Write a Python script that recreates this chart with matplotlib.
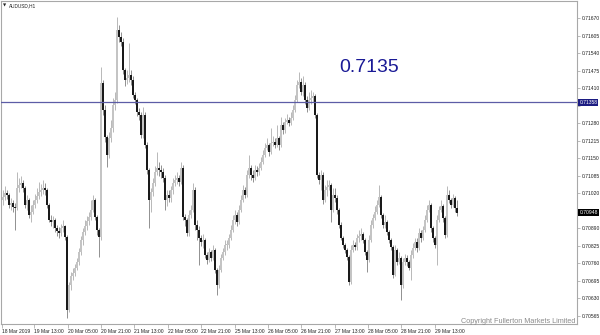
import numpy as np
import matplotlib
matplotlib.use("Agg")
import matplotlib.pyplot as plt
import matplotlib.transforms as mtransforms

# AUDUSD H1 bars
symbol = "AUDUSD,H1"
first_open = 0.70995

closes = [
    0.71006, 0.71021, 0.71013, 0.70976, 0.70984, 0.70969, 0.70965, 0.71039, 0.71050, 0.71058,
    0.71039, 0.70976, 0.70995, 0.70939, 0.70951, 0.70976, 0.70995, 0.71010, 0.71025, 0.71032,
    0.71039, 0.71032, 0.70976, 0.70921, 0.70914, 0.70921, 0.70891, 0.70880, 0.70873, 0.70891,
    0.70899, 0.70858, 0.70587, 0.70679, 0.70713, 0.70724, 0.70742, 0.70765, 0.70802, 0.70847,
    0.70877, 0.70899, 0.70917, 0.70932, 0.70958, 0.70995, 0.70932, 0.70884, 0.70858, 0.71429,
    0.71329, 0.71229, 0.71161, 0.71225, 0.71262, 0.71347, 0.71366, 0.71625, 0.71599, 0.71581,
    0.71477, 0.71440, 0.71447, 0.71458, 0.71440, 0.71384, 0.71366, 0.71322, 0.71310, 0.71236,
    0.71310, 0.71198, 0.71106, 0.70995, 0.71025, 0.71058, 0.71099, 0.71113, 0.71106, 0.71099,
    0.71076, 0.70995, 0.71013, 0.71002, 0.71032, 0.71058, 0.71069, 0.71076, 0.71062, 0.71113,
    0.70932, 0.70921, 0.70873, 0.70939, 0.70958, 0.71032, 0.70902, 0.70884, 0.70854, 0.70840,
    0.70847, 0.70790, 0.70772, 0.70802, 0.70779, 0.70809, 0.70735, 0.70679, 0.70735, 0.70779,
    0.70802, 0.70828, 0.70828, 0.70854, 0.70884, 0.70921, 0.70939, 0.70914, 0.70958, 0.70995,
    0.71032, 0.71013, 0.71087, 0.71113, 0.71087, 0.71076, 0.71106, 0.71099, 0.71113, 0.71136,
    0.71161, 0.71187, 0.71198, 0.71173, 0.71206, 0.71210, 0.71198, 0.71225, 0.71198, 0.71273,
    0.71255, 0.71285, 0.71292, 0.71281, 0.71299, 0.71329, 0.71366, 0.71421, 0.71433, 0.71396,
    0.71421, 0.71366, 0.71336, 0.71366, 0.71373, 0.71381, 0.71310, 0.71087, 0.71069, 0.71087,
    0.70995, 0.71032, 0.71043, 0.71050, 0.70958, 0.71013, 0.71002, 0.70958, 0.70902, 0.70854,
    0.70828, 0.70809, 0.70783, 0.70691, 0.70809, 0.70828, 0.70821, 0.70854, 0.70862, 0.70869,
    0.70847, 0.70802, 0.70772, 0.70847, 0.70902, 0.70928, 0.70951, 0.70976, 0.71006, 0.70939,
    0.70902, 0.70914, 0.70877, 0.70847, 0.70821, 0.70717, 0.70809, 0.70765, 0.70779, 0.70679,
    0.70765, 0.70779, 0.70765, 0.70742, 0.70790, 0.70817, 0.70840, 0.70817, 0.70873, 0.70854,
    0.70884, 0.70921, 0.70958, 0.70976, 0.70891, 0.70854, 0.70828, 0.70921, 0.70958, 0.70973,
    0.70928, 0.70865, 0.71013, 0.70995, 0.70976, 0.71002, 0.70965, 0.70948,
]

highs = [
    0.71032, 0.71047, 0.71032, 0.71021, 0.71002, 0.70995, 0.70984, 0.71099, 0.71076, 0.71084,
    0.71069, 0.71047, 0.71013, 0.71002, 0.70976, 0.70995, 0.71017, 0.71039, 0.71062, 0.71054,
    0.71069, 0.71058, 0.71039, 0.70984, 0.70939, 0.70936, 0.70928, 0.70902, 0.70895, 0.70906,
    0.70921, 0.70902, 0.70865, 0.70691, 0.70728, 0.70742, 0.70757, 0.70779, 0.70817, 0.70862,
    0.70891, 0.70921, 0.70936, 0.70951, 0.70995, 0.71013, 0.71002, 0.70939, 0.70891, 0.71488,
    0.71440, 0.71347, 0.71236, 0.71248, 0.71292, 0.71373, 0.71396, 0.71674, 0.71644, 0.71618,
    0.71595, 0.71484, 0.71477, 0.71577, 0.71477, 0.71455, 0.71396, 0.71373, 0.71336, 0.71322,
    0.71340, 0.71322, 0.71210, 0.71113, 0.71039, 0.71076, 0.71121, 0.71173, 0.71136, 0.71124,
    0.71113, 0.71087, 0.71032, 0.71032, 0.71047, 0.71076, 0.71087, 0.71099, 0.71087, 0.71136,
    0.71124, 0.70943, 0.70928, 0.70958, 0.70976, 0.71058, 0.71043, 0.70921, 0.70899, 0.70865,
    0.70869, 0.70854, 0.70802, 0.70817, 0.70809, 0.70828, 0.70817, 0.70742, 0.70753, 0.70794,
    0.70817, 0.70847, 0.70847, 0.70869, 0.70902, 0.70939, 0.70958, 0.70951, 0.70976, 0.71013,
    0.71050, 0.71043, 0.71106, 0.71161, 0.71124, 0.71106, 0.71124, 0.71121, 0.71132, 0.71154,
    0.71180, 0.71206, 0.71225, 0.71206, 0.71262, 0.71233, 0.71225, 0.71273, 0.71233, 0.71303,
    0.71285, 0.71299, 0.71314, 0.71303, 0.71322, 0.71347, 0.71384, 0.71440, 0.71470, 0.71447,
    0.71455, 0.71433, 0.71381, 0.71396, 0.71403, 0.71396, 0.71388, 0.71318, 0.71099, 0.71106,
    0.71099, 0.71050, 0.71069, 0.71069, 0.71058, 0.71039, 0.71039, 0.71013, 0.70965, 0.70914,
    0.70862, 0.70836, 0.70817, 0.70790, 0.70828, 0.70847, 0.70840, 0.70869, 0.70884, 0.70891,
    0.70877, 0.70854, 0.70809, 0.70865, 0.70921, 0.70943, 0.70973, 0.70995, 0.71050, 0.71013,
    0.70947, 0.70939, 0.70921, 0.70884, 0.70854, 0.70828, 0.70828, 0.70817, 0.70802, 0.70787,
    0.70779, 0.70794, 0.70790, 0.70772, 0.70809, 0.70836, 0.70854, 0.70854, 0.70891, 0.70884,
    0.70899, 0.70939, 0.70976, 0.70995, 0.70984, 0.70899, 0.70862, 0.70939, 0.70973, 0.70995,
    0.70980, 0.70936, 0.71047, 0.71032, 0.71002, 0.71017, 0.71010, 0.70995,
]

lows = [
    0.70976, 0.70995, 0.70999, 0.70965, 0.70958, 0.70951, 0.70884, 0.70958, 0.71025, 0.71039,
    0.71025, 0.70965, 0.70958, 0.70928, 0.70914, 0.70943, 0.70965, 0.70984, 0.70999, 0.71010,
    0.71017, 0.71013, 0.70965, 0.70914, 0.70899, 0.70891, 0.70877, 0.70862, 0.70854, 0.70862,
    0.70877, 0.70847, 0.70557, 0.70580, 0.70661, 0.70698, 0.70713, 0.70735, 0.70753, 0.70790,
    0.70828, 0.70865, 0.70884, 0.70902, 0.70921, 0.70951, 0.70921, 0.70865, 0.70783, 0.70847,
    0.71310, 0.71210, 0.71117, 0.71150, 0.71210, 0.71248, 0.71329, 0.71355, 0.71581, 0.71566,
    0.71462, 0.71418, 0.71425, 0.71433, 0.71421, 0.71373, 0.71351, 0.71307, 0.71292, 0.71225,
    0.71225, 0.71187, 0.71091, 0.70891, 0.70951, 0.71010, 0.71047, 0.71087, 0.71084, 0.71076,
    0.71062, 0.70958, 0.70973, 0.70988, 0.70988, 0.71017, 0.71047, 0.71054, 0.71047, 0.71054,
    0.70921, 0.70899, 0.70862, 0.70862, 0.70928, 0.70951, 0.70884, 0.70847, 0.70753, 0.70825,
    0.70817, 0.70779, 0.70757, 0.70765, 0.70768, 0.70772, 0.70724, 0.70642, 0.70668, 0.70728,
    0.70772, 0.70790, 0.70809, 0.70817, 0.70847, 0.70877, 0.70906, 0.70899, 0.70906, 0.70951,
    0.70988, 0.71002, 0.71006, 0.71076, 0.71069, 0.71062, 0.71069, 0.71084, 0.71087, 0.71106,
    0.71128, 0.71154, 0.71180, 0.71158, 0.71165, 0.71195, 0.71187, 0.71191, 0.71180, 0.71191,
    0.71240, 0.71244, 0.71277, 0.71270, 0.71273, 0.71292, 0.71322, 0.71359, 0.71410, 0.71384,
    0.71381, 0.71351, 0.71322, 0.71329, 0.71351, 0.71359, 0.71299, 0.71076, 0.71054, 0.71032,
    0.70980, 0.70988, 0.71010, 0.71032, 0.70914, 0.70951, 0.70988, 0.70943, 0.70891, 0.70847,
    0.70817, 0.70798, 0.70772, 0.70679, 0.70683, 0.70802, 0.70809, 0.70809, 0.70840, 0.70847,
    0.70836, 0.70790, 0.70728, 0.70765, 0.70840, 0.70891, 0.70921, 0.70943, 0.70969, 0.70928,
    0.70891, 0.70891, 0.70865, 0.70836, 0.70809, 0.70706, 0.70713, 0.70753, 0.70757, 0.70624,
    0.70668, 0.70753, 0.70750, 0.70735, 0.70698, 0.70779, 0.70809, 0.70802, 0.70809, 0.70840,
    0.70847, 0.70877, 0.70914, 0.70951, 0.70877, 0.70840, 0.70817, 0.70753, 0.70914, 0.70951,
    0.70914, 0.70854, 0.70858, 0.70984, 0.70965, 0.70969, 0.70951, 0.70936,
]

time_labels = ["18 Mar 2019", "19 Mar 13:00", "20 Mar 05:00", "20 Mar 21:00",
               "21 Mar 13:00", "22 Mar 05:00", "22 Mar 21:00", "25 Mar 13:00",
               "26 Mar 05:00", "26 Mar 21:00", "27 Mar 13:00", "28 Mar 05:00",
               "28 Mar 21:00", "29 Mar 13:00"]
label_bars = [-0.5, 15.5, 32.5, 49, 65.5, 82.5, 99, 116, 132.5, 149, 166, 182.5, 199, 216]

price_ticks = [0.70565, 0.70630, 0.70695, 0.70760, 0.70825, 0.70890, 0.70955, 0.71020,
               0.71085, 0.71150, 0.71215, 0.71280, 0.71345, 0.71410, 0.71475, 0.71540,
               0.71605, 0.71670]

line_price = 0.71358
last_price = 0.70948
note_text = "0.7135"
note_pos = (183, 0.71488)
copyright_text = "Copyright Fullerton Markets Limited"

W, H = 600, 335
fig = plt.figure(figsize=(W / 100, H / 100), dpi=100)
fig.patch.set_facecolor("white")
ax = fig.add_axes([1 / W, 1 - 324 / H, 576 / W, 323 / H])
ax.set_facecolor("white")

o = np.array([first_open] + closes[:-1])
c = np.array(closes)
hi = np.array(highs)
lo = np.array(lows)
x = np.arange(len(c))
up = c >= o

ax.vlines(x[up], lo[up], hi[up], color="#b8b8b8", lw=0.7, zorder=2)
ax.vlines(x[~up], lo[~up], hi[~up], color="#909090", lw=0.7, zorder=2)
bottom = np.minimum(o, c)
height = np.maximum(np.abs(c - o), 0.00002)
ax.bar(x[up], height[up], bottom=bottom[up], width=0.8, color="#c4c4c4", lw=0, zorder=3)
ax.bar(x[~up], height[~up], bottom=bottom[~up], width=0.8, color="#1a1a1a", lw=0, zorder=3)

ax.axhline(line_price, color="#5c5ca6", lw=0.9, zorder=4)

ax.set_xlim(-1, 287)
ax.set_ylim(0.70535, 0.71733)

for s in ax.spines.values():
    s.set_color("#a8a8a8")
    s.set_linewidth(0.8)

# ticks hidden under the price boxes keep their mark but lose their text
hidden = {0.70955, 0.71345}
ax.yaxis.tick_right()
ax.set_yticks(price_ticks)
ax.set_yticklabels(["" if p in hidden else "%.5f" % p for p in price_ticks])
ax.tick_params(axis="y", length=2, width=0.5, color="#a0a0a0", pad=1.5,
               labelsize=3.6, labelcolor="#202020")
ax.set_xticks(label_bars)
ax.set_xticklabels(time_labels)
for lab in ax.get_xticklabels():
    lab.set_horizontalalignment("left")
ax.tick_params(axis="x", length=3, width=0.5, color="#a0a0a0", pad=0.8,
               labelsize=3.6, labelcolor="#202020")
for lab in ax.get_xticklabels() + ax.get_yticklabels():
    lab.set_fontfamily("Liberation Sans")

trans = mtransforms.blended_transform_factory(ax.transAxes, ax.transData)
ax.text(1.004, line_price, "%.5f" % line_price, transform=trans, ha="left", va="center",
        fontsize=3.6, color="white", family="Liberation Sans", clip_on=False, zorder=6,
        bbox=dict(boxstyle="square,pad=0.2", fc="#1c1c82", ec="none"))
ax.text(1.004, last_price, "%.5f" % last_price, transform=trans, ha="left", va="center",
        fontsize=3.6, color="white", family="Liberation Sans", clip_on=False, zorder=6,
        bbox=dict(boxstyle="square,pad=0.2", fc="#000000", ec="none"))

ax.text(note_pos[0], note_pos[1], note_text, ha="center", va="center", fontsize=14,
        color="#1a1a96", family="Liberation Sans", zorder=5)

ax.text(0.004, 0.985, "\u25bc", transform=ax.transAxes, ha="left", va="center",
        fontsize=3, color="#202020", family="DejaVu Sans")
ax.text(0.013, 0.985, symbol, transform=ax.transAxes, ha="left", va="center",
        fontsize=3.4, color="#202020", family="Liberation Sans")
ax.text(0.9965, -0.002, copyright_text, transform=ax.transAxes, ha="right", va="bottom",
        fontsize=5.2, color="#8a8a8a", family="Liberation Sans", zorder=5)

fig.savefig("out.png", dpi=100, facecolor="white")
